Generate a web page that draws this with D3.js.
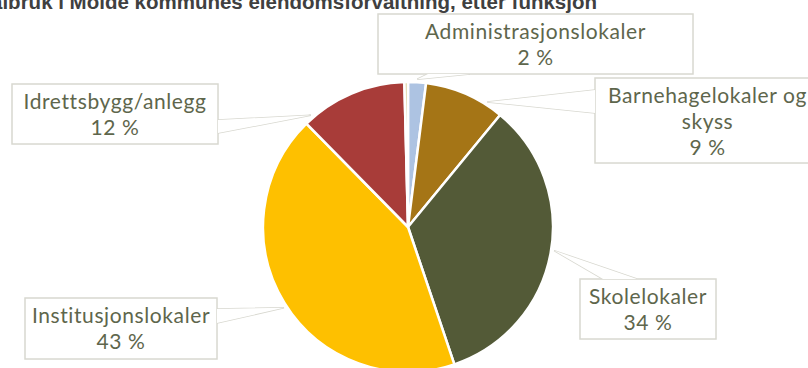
<!DOCTYPE html>
<html>
<head>
<meta charset="utf-8">
<script src="https://cdn.jsdelivr.net/npm/d3@7/dist/d3.min.js"></script>
<style>
  html, body { margin: 0; padding: 0; background: #ffffff; overflow: hidden; }
  svg { display: block; }
</style>
</head>
<body>
<svg id="chart" width="808" height="368"></svg>
<script>
// Eiendomsforvaltning i Molde kommune, fordelt etter funksjon (prosent)
const categories = [
  "Administrasjonslokaler",
  "Barnehagelokaler og skyss",
  "Skolelokaler",
  "Institusjonslokaler",
  "Idrettsbygg/anlegg",
  "Annet"
];
const values = [2, 9, 34, 43, 12, 0.4];
const colors = ["#adc3e2", "#a57516", "#535a37", "#fec000", "#a83c39", "#ddd3a0"];

// Label lines per slice (null = no callout)
const labelLines = [
  ["Administrasjonslokaler"],
  ["Barnehagelokaler og", "skyss"],
  ["Skolelokaler"],
  ["Institusjonslokaler"],
  ["Idrettsbygg/anlegg"],
  null
];

const titleText = "Figur 1: Arealbruk i Molde kommunes eiendomsforvaltning, etter funksjon";

const svg = d3.select("#chart");
const cx = 408, cy = 227, R = 145;

// Title (runs past the top-left corner of the frame)
svg.append("text")
  .attr("x", 597)
  .attr("y", 9)
  .attr("text-anchor", "end")
  .attr("font-family", "Liberation Sans, Arial, sans-serif")
  .attr("font-weight", "bold")
  .attr("font-size", 20.5)
  .attr("fill", "#404040")
  .text(titleText);

const total = d3.sum(values);
const data = categories.map((c, i) => ({ name: c, value: values[i], color: colors[i], lines: labelLines[i] }));

const pie = d3.pie().sort(null).value(d => d.value).startAngle(0).endAngle(2 * Math.PI);
const arcs = pie(data);
const arc = d3.arc().innerRadius(0).outerRadius(R);

const g = svg.append("g").attr("transform", `translate(${cx},${cy})`);
g.selectAll("path.slice")
  .data(arcs)
  .join("path")
  .attr("class", "slice")
  .attr("d", arc)
  .attr("fill", d => d.data.color)
  .attr("stroke", "#ffffff")
  .attr("stroke-width", 2.5)
  .attr("stroke-linejoin", "round");

// Callout layout: box (x, y, w, h), where along the slice the pointer lands,
// and the two base points of the pointer on the box edge.
const callouts = [
  { box: [378, 14, 315, 60],  t: 0.5,  base: [[428, 74], [470, 74]] },
  { box: [595, 78, 225, 85],  t: 0.78, base: [[595, 90], [595, 113]] },
  { box: [580, 279, 136, 60], t: 0.49, base: [[603, 279], [637, 279]] },
  { box: [25, 298, 192, 61],  t: 0.49, base: [[217, 309], [217, 323]] },
  { box: [12, 84, 206, 60],   t: 0.08, base: [[218, 120], [218, 133]] },
  null
];

const borderCol = "#d8d8d0";
const textCol = "#5e664c";
const labelFont = "Lato, 'Open Sans', sans-serif";
const fs = 21, lh = 26;

const lab = svg.append("g");
arcs.forEach((a, i) => {
  const c = callouts[i];
  if (!c || !a.data.lines) return;
  const ang = a.startAngle + c.t * (a.endAngle - a.startAngle);
  const tip = [cx + (R + 3) * Math.sin(ang), cy - (R + 3) * Math.cos(ang)];
  const [bx, by, bw, bh] = c.box;

  // pointer wedge
  lab.append("path")
    .attr("d", `M${c.base[0][0]},${c.base[0][1]}L${tip[0]},${tip[1]}L${c.base[1][0]},${c.base[1][1]}`)
    .attr("fill", "#ffffff")
    .attr("stroke", borderCol)
    .attr("stroke-width", 1.5);
  // box
  lab.append("rect")
    .attr("x", bx).attr("y", by).attr("width", bw).attr("height", bh)
    .attr("fill", "#ffffff")
    .attr("stroke", borderCol)
    .attr("stroke-width", 1.5);
  // open the box edge where the pointer joins
  lab.append("path")
    .attr("d", `M${c.base[0][0]},${c.base[0][1]}L${tip[0]},${tip[1]}L${c.base[1][0]},${c.base[1][1]}Z`)
    .attr("fill", "#ffffff")
    .attr("stroke", "none");

  const lines = a.data.lines.concat([Math.round(a.data.value / total * 100) + " %"]);
  const t = lab.append("text")
    .attr("font-family", labelFont)
    .attr("font-weight", 400)
    .attr("font-size", fs)
    .attr("letter-spacing", 0.6)
    .attr("fill", textCol)
    .attr("text-anchor", "middle");
  const firstBase = by + 25;
  lines.forEach((ln, k) => {
    t.append("tspan")
      .attr("x", bx + bw / 2)
      .attr("y", firstBase + k * lh)
      .text(ln);
  });
});
</script>
</body>
</html>
